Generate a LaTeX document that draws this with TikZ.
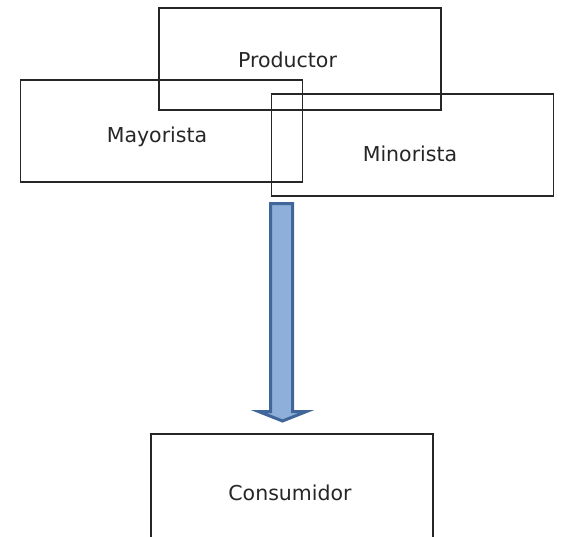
\documentclass[tikz,border=0pt]{standalone}
\usepackage{fontspec}
\setmainfont{DejaVu Sans}
\definecolor{boxline}{HTML}{262626}
\definecolor{arrowfill}{HTML}{8DAFDA}
\definecolor{arrowline}{HTML}{41679A}
\begin{document}
\begin{tikzpicture}[x=1pt,y=-1pt,
  box/.style={draw=boxline, line width=1.3pt, rectangle, inner sep=0pt, minimum width=282pt, minimum height=102pt},
  lbl/.style={anchor=base, inner sep=0pt, font=\fontsize{20.5pt}{24pt}\selectfont, text=black!85}]
\useasboundingbox (0,0) rectangle (562,536);
\clip (0,0) rectangle (562,536);
\node[box] (prod) at (300,59) {};
\node[box] (may) at (161.5,131) {};
\node[box] (min) at (412.5,145) {};
\node[box, minimum height=130pt] (cons) at (292,499) {};
\node[lbl] (tprod) at (287.5,67.5) {Productor};
\node[lbl] (tmay) at (157,142) {Mayorista};
\node[lbl] (tmin) at (410,161) {Minorista};
\node[lbl] (tcons) at (290,500) {Consumidor};
\draw[fill=arrowfill, draw=arrowline, line width=3pt, line join=miter]
  (270.5,203.5) -- (292.5,203.5) -- (292.5,411.5) -- (306.5,411.5) -- (282.5,421)
  -- (258.5,411.5) -- (270.5,411.5) -- cycle;
\end{tikzpicture}
\end{document}
